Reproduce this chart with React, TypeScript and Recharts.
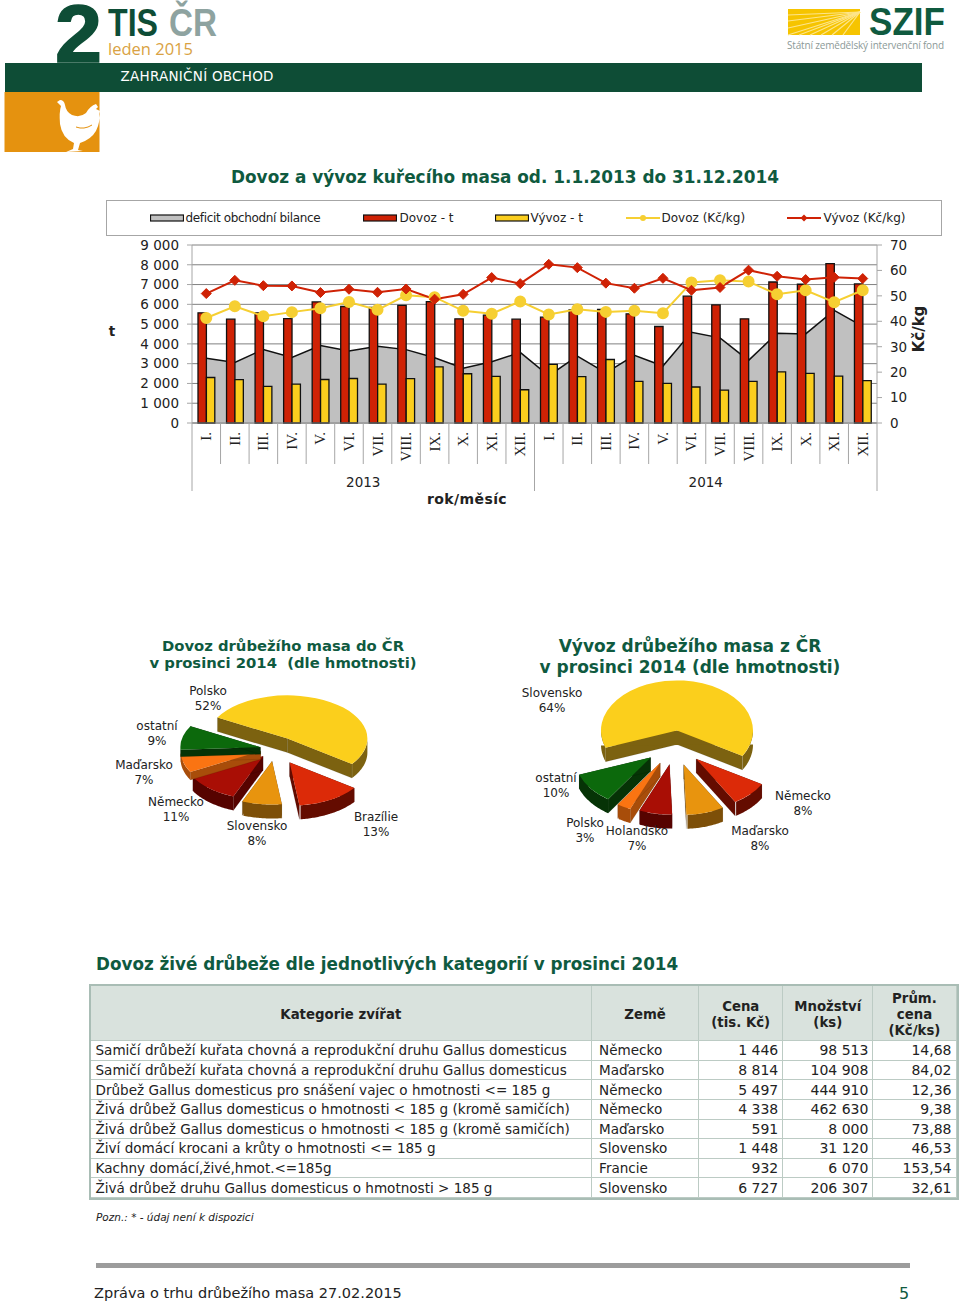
import {
  Area,
  Bar,
  CartesianGrid,
  ComposedChart,
  Legend,
  Line,
  Pie,
  PieChart,
  XAxis,
  YAxis,
} from 'recharts'

const MONTHS = ['I.', 'II.', 'III.', 'IV.', 'V.', 'VI.', 'VII.', 'VIII.', 'IX.', 'X.', 'XI.', 'XII.']
const YEARS = ['2013', '2014']

const DEFICIT = [3270, 3060, 3720, 3310, 3920, 3640, 3880, 3710, 3300, 2775, 3095, 3570, 2390, 3380, 2530, 3420, 2880, 4590, 4305, 3165, 4540, 4505, 5690, 4890]
const IMPORT_T = [5570, 5250, 5570, 5280, 6120, 5890, 5850, 5950, 6140, 5265, 5450, 5250, 5350, 5720, 5740, 5520, 4880, 6410, 5970, 5265, 7130, 7015, 8060, 7030]
const EXPORT_T = [2300, 2190, 1850, 1970, 2200, 2250, 1970, 2240, 2840, 2490, 2355, 1680, 2960, 2340, 3210, 2100, 2000, 1820, 1665, 2100, 2590, 2510, 2370, 2140]
const IMPORT_PRICE = [41.3, 45.9, 42.0, 43.6, 45.1, 47.6, 44.5, 50.2, 49.5, 44.1, 43.0, 47.8, 42.7, 44.7, 43.7, 44.1, 43.2, 55.3, 56.1, 55.6, 50.6, 52.2, 47.5, 52.2]
const EXPORT_PRICE = [50.9, 56.1, 54.0, 53.9, 51.3, 52.6, 51.4, 52.7, 48.7, 50.6, 57.2, 54.8, 62.4, 61.1, 55.0, 53.0, 56.9, 52.2, 53.3, 60.1, 57.7, 56.4, 57.3, 56.8]

const TONNE_TICKS = [0, 1000, 2000, 3000, 4000, 5000, 6000, 7000, 8000, 9000]
const PRICE_TICKS = [0, 10, 20, 30, 40, 50, 60, 70]

const IMPORT_COUNTRIES = ['Polsko', 'Brazílie', 'Slovensko', 'Německo', 'Maďarsko', 'ostatní']
const IMPORT_SHARES = [52, 13, 8, 11, 7, 9]
const EXPORT_COUNTRIES = ['Slovensko', 'Německo', 'Maďarsko', 'Holandsko', 'Polsko', 'ostatní']
const EXPORT_SHARES = [64, 8, 8, 7, 3, 10]

const TABLE_HEAD = ['Kategorie zvířat', 'Země', 'Cena\n(tis. Kč)', 'Množství\n(ks)', 'Prům.\ncena\n(Kč/ks)']
const TABLE_CATEGORY = [
  'Samičí drůbeží kuřata chovná a reprodukční druhu Gallus domesticus',
  'Samičí drůbeží kuřata chovná a reprodukční druhu Gallus domesticus',
  'Drůbež Gallus domesticus pro snášení vajec o hmotnosti <= 185 g',
  'Živá drůbež Gallus domesticus o hmotnosti < 185 g (kromě samičích)',
  'Živá drůbež Gallus domesticus o hmotnosti < 185 g (kromě samičích)',
  'Živí domácí krocani a krůty o hmotnosti <= 185 g',
  'Kachny domácí,živé,hmot.<=185g',
  'Živá drůbež druhu Gallus domesticus o hmotnosti > 185 g',
]
const TABLE_COUNTRY = ['Německo', 'Maďarsko', 'Německo', 'Německo', 'Maďarsko', 'Slovensko', 'Francie', 'Slovensko']
const TABLE_PRICE = ['1 446', '8 814', '5 497', '4 338', '591', '1 448', '932', '6 727']
const TABLE_QUANTITY = ['98 513', '104 908', '444 910', '462 630', '8 000', '31 120', '6 070', '206 307']
const TABLE_AVG = ['14,68', '84,02', '12,36', '9,38', '73,88', '46,53', '153,54', '32,61']

const FONT = '"DejaVu Sans", Verdana, sans-serif'
const GREEN = '#0f5a3f'
const GRID = '#808080'
const AREA_GRAY = '#c0c0c0'
const RED = '#cf2205'
const YELLOW = '#fbce1e'
const LINE_YELLOW = '#f6cf32'

const trendData = DEFICIT.map((deficit, i) => ({
  month: MONTHS[i % 12],
  year: YEARS[i < 12 ? 0 : 1],
  deficit,
  importT: IMPORT_T[i],
  exportT: EXPORT_T[i],
  importPrice: IMPORT_PRICE[i],
  exportPrice: EXPORT_PRICE[i],
}))

const LEGEND_LEFT = [43, 256, 388, 519, 680]
const LEGEND_TEXT_GAP = [36, 37, 36, 36, 37]

function TrendLegend({ payload }: any) {
  return (
    <div style={{ position: 'relative', width: 836, height: 36, boxSizing: 'border-box', border: '1px solid #a6a6a6', background: '#fff', fontFamily: FONT, fontSize: 12, color: '#222' }}>
      {(payload ?? []).map((entry: any, i: number) => (
        <div key={entry.value} style={{ position: 'absolute', left: LEGEND_LEFT[i], top: 0, height: 34, width: 200 }}>
          <svg width={34} height={34} style={{ position: 'absolute', left: 0, top: 0 }}>
            {i < 3 ? (
              <rect x={0.5} y={14} width={33} height={6} fill={i === 0 ? AREA_GRAY : entry.color} stroke="#111" strokeWidth={1.2} />
            ) : (
              <>
                <line x1={0} x2={34} y1={17} y2={17} stroke={entry.color} strokeWidth={2} />
                {i === 3 ? <circle cx={17} cy={17} r={3} fill={entry.color} /> : <path d="M17 13.5 L20.5 17 L17 20.5 L13.5 17 Z" fill={entry.color} />}
              </>
            )}
          </svg>
          <span style={{ position: 'absolute', left: LEGEND_TEXT_GAP[i], top: 10, whiteSpace: 'nowrap', letterSpacing: i === 0 ? -0.35 : 0 }}>{entry.value}</span>
        </div>
      ))}
    </div>
  )
}

function MonthTick({ x, y, index, payload }: any) {
  const half = payload.offset
  return (
    <g>
      <line x1={x - half} x2={x - half} y1={y} y2={y + 41} stroke="#a6a6a6" />
      {index === 23 && <line x1={x + half} x2={x + half} y1={y} y2={y + 41} stroke="#a6a6a6" />}
      <text transform={`translate(${x + 5},${y + 9}) rotate(-90)`} textAnchor="end" fontFamily='"Liberation Serif", serif' fontSize={15} fill="#222">
        {payload.value}
      </text>
    </g>
  )
}

function YearTick({ x, y, index, payload }: any) {
  const half = payload.offset
  return (
    <g>
      <line x1={x - half} x2={x - half} y1={y} y2={y + 27} stroke="#a6a6a6" />
      {index === 1 && <line x1={x + half} x2={x + half} y1={y} y2={y + 27} stroke="#a6a6a6" />}
      <text x={x} y={y + 23} textAnchor="middle" fontFamily={FONT} fontSize={13.5} fill="#222">
        {payload.value}
      </text>
    </g>
  )
}

function DiamondDot({ cx, cy }: any) {
  return <path d={`M${cx} ${cy - 5} L${cx + 5} ${cy} L${cx} ${cy + 5} L${cx - 5} ${cy} Z`} fill={RED} stroke={RED} />
}

function axisTitle(text: string, dx: number, dy: number, size: number, vertical: boolean) {
  return ({ viewBox }: any) => {
    const x = viewBox.x + dx
    const y = viewBox.y + viewBox.height / 2 + dy
    return (
      <text transform={`translate(${x},${y})${vertical ? ' rotate(-90)' : ''}`} textAnchor="middle" dominantBaseline="central" fontFamily={FONT} fontSize={size} fontWeight={700} fill="#222">
        {text}
      </text>
    )
  }
}

function TrendChart() {
  return (
    <div style={{ position: 'absolute', left: 100, top: 195 }}>
      <ComposedChart width={850} height={320} data={trendData} margin={{ top: 50, right: 0, bottom: 23, left: 0 }} barGap={0} barSize={8.4}>
        <CartesianGrid vertical={false} yAxisId="t" stroke={GRID} />
        <XAxis dataKey="month" interval={0} height={41} tickSize={0} tickMargin={0} tickLine={false} tick={<MonthTick />} stroke={GRID} />
        <XAxis
          xAxisId="year"
          dataKey="year"
          allowDuplicatedCategory={false}
          interval={0}
          height={28}
          tickSize={0}
          tickMargin={0}
          tickLine={false}
          axisLine={false}
          tick={<YearTick />}
          label={({ viewBox }: any) => (
            <text x={viewBox.x + 235} y={viewBox.y + 40} fontFamily={FONT} fontSize={14} fontWeight={700} fill="#222" textAnchor="start" letterSpacing={0.4}>
              rok/měsíc
            </text>
          )}
        />
        <YAxis
          yAxisId="t"
          width={92}
          domain={[0, 9000]}
          ticks={TONNE_TICKS}
          interval={0}
          tickSize={5}
          tickMargin={8}
          tickFormatter={(v: number) => String(v).replace(/\B(?=(\d{3})+$)/g, ' ')}
          tick={{ fontFamily: FONT, fontSize: 13.5, fill: '#222' }}
          stroke="#a6a6a6"
          label={axisTitle('t', 12, -3, 13.5, false)}
        />
        <YAxis
          yAxisId="kc"
          orientation="right"
          width={73}
          domain={[0, 70]}
          ticks={PRICE_TICKS}
          interval={0}
          tickSize={5}
          tickMargin={8}
          tick={{ fontFamily: FONT, fontSize: 13.5, fill: '#222' }}
          stroke="#a6a6a6"
          label={axisTitle('Kč/kg', 42, -5, 15, true)}
        />
        <Legend
          layout="horizontal"
          align="center"
          verticalAlign="middle"
          itemSorter={null}
          wrapperStyle={{ left: 5.5, top: 4.5, width: 836, height: 36 }}
          content={<TrendLegend />}
        />
        <Area yAxisId="t" type="linear" dataKey="deficit" name="deficit obchodní bilance" fill={AREA_GRAY} fillOpacity={1} stroke="#111" strokeWidth={1.5} isAnimationActive={false} />
        <Bar yAxisId="t" dataKey="importT" name="Dovoz - t" fill={RED} stroke="#111" strokeWidth={1.3} isAnimationActive={false} />
        <Bar yAxisId="t" dataKey="exportT" name="Vývoz - t" fill={YELLOW} stroke="#111" strokeWidth={1.3} isAnimationActive={false} />
        <Line yAxisId="kc" type="linear" dataKey="importPrice" name="Dovoz (Kč/kg)" stroke={LINE_YELLOW} strokeWidth={2} dot={{ r: 5, fill: LINE_YELLOW, stroke: LINE_YELLOW }} isAnimationActive={false} />
        <Line yAxisId="kc" type="linear" dataKey="exportPrice" name="Vývoz (Kč/kg)" stroke={RED} strokeWidth={2} dot={<DiamondDot />} isAnimationActive={false} />
      </ComposedChart>
    </div>
  )
}

// top, wall and cut colours of the slices, same order in both pies
const SLICE_FILL = ['#fbcf1c', '#dc2a08', '#e8940e', '#a90e05', '#fa7412', '#0c690c']
const SLICE_SIDE = ['#7c6210', '#640c00', '#7d4f08', '#560300', '#a84d0a', '#063306']

function makeSlice(tilt: number, depths: number[], explode: number[]) {
  return function Slice({ cx, cy, outerRadius, startAngle, endAngle, midAngle, index }: any) {
    const rad = (a: number) => (a * Math.PI) / 180
    const depth = depths[index]
    const ox = cx + explode[index] * Math.cos(rad(midAngle))
    const oy = cy - explode[index] * tilt * Math.sin(rad(midAngle))
    const at = (a: number, drop = 0) => [ox + outerRadius * Math.cos(rad(a)), oy - outerRadius * tilt * Math.sin(rad(a)) + drop]
    const [sx, sy] = at(startAngle)
    const [ex, ey] = at(endAngle)
    const large = Math.abs(startAngle - endAngle) > 180 ? 1 : 0
    const top = `M${ox} ${oy} L${sx} ${sy} A${outerRadius} ${outerRadius * tilt} 0 ${large} 1 ${ex} ${ey} Z`
    const front: number[] = []
    for (let a = startAngle; a >= endAngle; a -= 1) {
      if (Math.sin(rad(a)) <= 0) front.push(a)
    }
    const wall = front.length
      ? [...front.map((a) => at(a)), ...[...front].reverse().map((a) => at(a, depth))].map((p) => p.join(',')).join(' ')
      : ''
    const side = SLICE_SIDE[index]
    return (
      <g>
        <polygon points={`${ox},${oy} ${sx},${sy} ${sx},${sy + depth} ${ox},${oy + depth}`} fill={side} stroke="#0003" strokeWidth={0.5} />
        <polygon points={`${ox},${oy} ${ex},${ey} ${ex},${ey + depth} ${ox},${oy + depth}`} fill={side} stroke="#0003" strokeWidth={0.5} />
        {wall && <polygon points={wall} fill={side} />}
        <path d={top} fill={SLICE_FILL[index]} />
      </g>
    )
  }
}

function sliceLabel(countries: string[], positions: number[][]) {
  return ({ index, value }: any) => (
    <text x={positions[index][0]} y={positions[index][1]} textAnchor="middle" fontFamily={FONT} fontSize={12} fill="#222">
      <tspan x={positions[index][0]}>{countries[index]}</tspan>
      <tspan x={positions[index][0]} dy={14.5}>{value}%</tspan>
    </text>
  )
}

const IMPORT_EXPLODE = [23, 29, 23, 18, 15, 15]
const EXPORT_EXPLODE = [22, 30, 31, 30, 31, 31]
const IMPORT_DEPTH = [14, 14, 14, 14, 8, 7]
const EXPORT_DEPTH = [14, 14, 14, 14, 14, 14]
const IMPORT_LABEL_POS = [[108, 15], [276, 141], [157, 150], [76, 126], [44, 89], [57, 50]]
const EXPORT_LABEL_POS = [[132, 17], [383, 120], [340, 155], [217, 155], [165, 147], [136, 102]]

function ShareChart({ left, top, width, height, cx, cy, radius, tilt, depths, start, shares, countries, explode, labels }: any) {
  const data = countries.map((name: string, i: number) => ({ name, value: shares[i] }))
  return (
    <div style={{ position: 'absolute', left, top }}>
      <PieChart width={width} height={height} margin={{ top: 0, right: 0, bottom: 0, left: 0 }}>
        <Pie
          data={data}
          dataKey="value"
          nameKey="name"
          cx={cx}
          cy={cy}
          outerRadius={radius}
          startAngle={start}
          endAngle={start - 360}
          paddingAngle={0}
          stroke="none"
          labelLine={false}
          label={sliceLabel(countries, labels)}
          shape={makeSlice(tilt, depths, explode)}
          isAnimationActive={false}
        />
      </PieChart>
    </div>
  )
}

function Header() {
  return (
    <svg width={960} height={160} style={{ position: 'absolute', left: 0, top: 0 }}>
      <text x={55} y={62} fontFamily='"Liberation Sans", sans-serif' fontWeight={700} fontSize={82} textLength={47} lengthAdjust="spacingAndGlyphs" fill="#0e4d36" stroke="#0e4d36" strokeWidth={1.5}>2</text>
      <text x={108} y={36} fontFamily='"Liberation Sans", sans-serif' fontWeight={700} fontSize={38} textLength={50} lengthAdjust="spacingAndGlyphs" fill="#0e4d36">TIS</text>
      <text x={169} y={36} fontFamily='"Liberation Sans", sans-serif' fontWeight={700} fontSize={38} textLength={48} lengthAdjust="spacingAndGlyphs" fill="#8ea3a0">ČR</text>
      <text x={108} y={55} fontFamily='"Open Sans", sans-serif' fontSize={16.5} textLength={85} fill="#d9a243">leden 2015</text>
      <rect x={5} y={63} width={917} height={29} fill="#0e4d36" />
      <text x={120.5} y={81} fontFamily={FONT} fontSize={13.5} textLength={153} fill="#fff">ZAHRANIČNÍ OBCHOD</text>
      <rect x={4.5} y={92} width={95} height={60} fill="#e5920f" />
      <path d="M57 102 L60 100 Q64 100 65 105 Q66 112 72 115 Q80 118 86 113 Q90 106 96 104 L98 107 L96 109 L100 111 L99 114 L100 118 L98 126 Q95 136 85 141 L80 143 L78 150 L83 151 L66 152 L73 149 L74 143 Q62 138 60 124 Q59 112 61 106 Z" fill="#fff" />
      <path d="M76 127 Q84 130 92 125" fill="none" stroke="#e5920f" strokeWidth={1} />
      <rect x={788} y={9} width={72} height={26} fill="#f6c400" />
      {[788, 799, 810, 821, 832, 843].map((x2) => (
        <line key={x2} x1={860} y1={12} x2={x2} y2={35} stroke="#fde58c" strokeWidth={1.2} />
      ))}
      {[15, 21, 28].map((y2) => (
        <line key={y2} x1={860} y1={12} x2={788} y2={y2} stroke="#fde58c" strokeWidth={1.2} />
      ))}
      <text x={869} y={35} fontFamily='"Liberation Sans", sans-serif' fontWeight={700} fontSize={38} textLength={76} lengthAdjust="spacingAndGlyphs" fill={GREEN}>SZIF</text>
      <text x={787} y={49} fontFamily='"Open Sans", sans-serif' fontSize={10} textLength={157} fill="#8c9a98">Státní zemědělský intervenční fond</text>
    </svg>
  )
}

function LiveTable() {
  const borderColor = '#bccbc4'
  const cell = { borderRight: `1.5px solid ${borderColor}`, borderBottom: `1.5px solid ${borderColor}`, padding: '0 5px', height: 19.6, boxSizing: 'border-box' as const, overflow: 'hidden', whiteSpace: 'nowrap' as const, fontSize: 13.55 }
  const country = { ...cell, paddingLeft: 7 }
  const numeric = { ...cell, textAlign: 'right' as const, fontSize: 14, paddingRight: 4 }
  const widths = [501, 107, 84, 90, 83]
  return (
    <table style={{ position: 'absolute', left: 88.5, top: 984, width: 870, height: 216, tableLayout: 'fixed', borderCollapse: 'separate', borderSpacing: 0, border: '2.5px solid #a9bdb5', fontFamily: FONT, lineHeight: '16px', color: '#222', boxSizing: 'border-box' }}>
      <colgroup>
        {widths.map((w, i) => <col key={i} style={{ width: w }} />)}
      </colgroup>
      <thead>
        <tr style={{ background: '#d9e2dd' }}>
          {TABLE_HEAD.map((h) => (
            <th key={h} style={{ ...cell, height: 55, paddingTop: 3, fontSize: 13.3, textAlign: 'center', whiteSpace: 'pre-line', fontWeight: 700 }}>{h}</th>
          ))}
        </tr>
      </thead>
      <tbody>
        {TABLE_CATEGORY.map((c, i) => (
          <tr key={i}>
            <td style={cell}>{c}</td>
            <td style={country}>{TABLE_COUNTRY[i]}</td>
            <td style={numeric}>{TABLE_PRICE[i]}</td>
            <td style={numeric}>{TABLE_QUANTITY[i]}</td>
            <td style={numeric}>{TABLE_AVG[i]}</td>
          </tr>
        ))}
      </tbody>
    </table>
  )
}

const abs = (left: number, top: number, fontSize: number, extra: any = {}) => ({
  position: 'absolute' as const,
  left,
  top,
  fontFamily: FONT,
  fontSize,
  lineHeight: 1.2,
  whiteSpace: 'pre' as const,
  ...extra,
})

export default function App() {
  return (
    <div style={{ position: 'absolute', left: 0, top: 0, width: 960, height: 1304, background: '#fff', overflow: 'hidden' }}>
      <Header />
      <div style={abs(231, 167, 16.9, { fontWeight: 700, color: GREEN })}>Dovoz a vývoz kuřecího masa od. 1.1.2013 do 31.12.2014</div>
      <TrendChart />

      <div style={abs(83, 637, 14.8, { width: 400, textAlign: 'center', fontWeight: 700, color: GREEN, lineHeight: '17px' })}>{'Dovoz drůbežího masa do ČR\nv prosinci 2014  (dle hmotnosti)'}</div>
      <ShareChart left={100} top={680} width={350} height={180} cx={175} cy={69} radius={80} tilt={0.54} depths={IMPORT_DEPTH} start={151} shares={IMPORT_SHARES} countries={IMPORT_COUNTRIES} explode={IMPORT_EXPLODE} labels={IMPORT_LABEL_POS} />

      <div style={abs(490, 636, 17, { width: 400, textAlign: 'center', fontWeight: 700, color: GREEN, lineHeight: '21px' })}>{'Vývoz drůbežího masa z ČR\nv prosinci 2014 (dle hmotnosti)'}</div>
      <ShareChart left={420} top={680} width={450} height={180} cx={255} cy={65} radius={76} tilt={0.66} depths={EXPORT_DEPTH} start={200} shares={EXPORT_SHARES} countries={EXPORT_COUNTRIES} explode={EXPORT_EXPLODE} labels={EXPORT_LABEL_POS} />

      <div style={abs(96, 954, 16.8, { fontWeight: 700, color: GREEN })}>Dovoz živé drůbeže dle jednotlivých kategorií v prosinci 2014</div>
      <LiveTable />
      <div style={abs(96, 1211, 10.5, { fontStyle: 'italic', color: '#222' })}>Pozn.: * - údaj není k dispozici</div>

      <div style={{ position: 'absolute', left: 96, top: 1263, width: 814, height: 5, background: '#9c9c9c' }} />
      <div style={abs(94, 1285, 14.5, { color: '#222' })}>Zpráva o trhu drůbežího masa 27.02.2015</div>
      <div style={abs(899, 1284, 16, { color: '#0f5a3f' })}>5</div>
    </div>
  )
}
